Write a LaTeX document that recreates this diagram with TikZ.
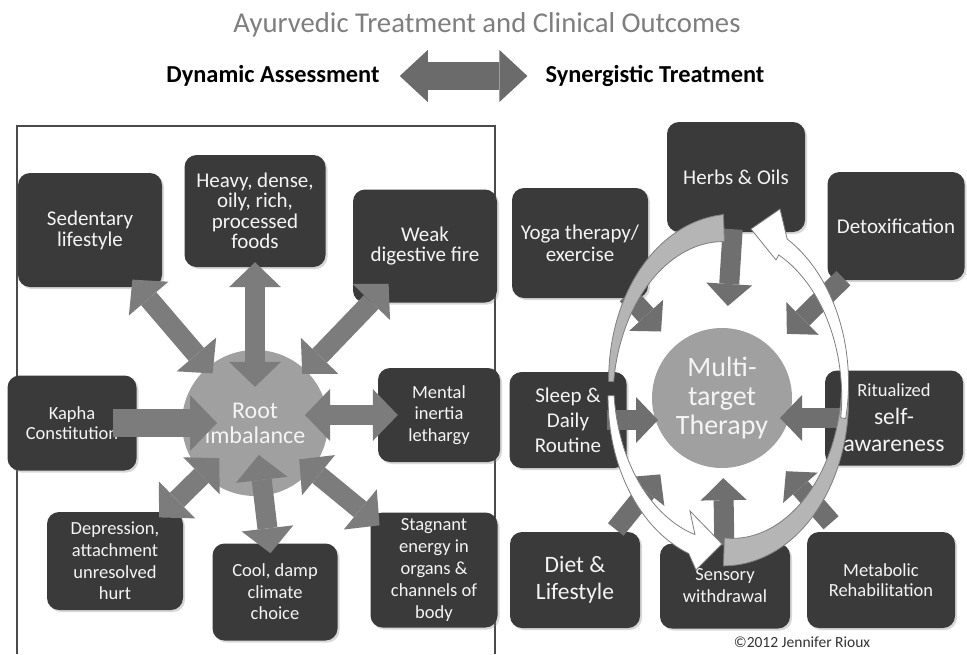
\documentclass[tikz,border=0pt]{standalone}
\usepackage{fontspec}
\setmainfont{Carlito}
\usepackage{tikz}
\usetikzlibrary{arrows.meta, shadows}
\definecolor{boxInk}{HTML}{3A3A3A}
\definecolor{boxText}{HTML}{F4F4F4}
\definecolor{hubFill}{HTML}{A0A0A0}
\definecolor{linkGray}{HTML}{7C7C7C}
\definecolor{feedGray}{HTML}{6F6F6F}
\definecolor{titleGray}{HTML}{7E7E7E}
\definecolor{bandGray}{HTML}{B5B5B5}
\definecolor{bandEdge}{HTML}{7E7E7E}
\definecolor{panelInk}{HTML}{4A4A4A}
% ellipse that carries the two circular arrows
\newcommand{\ringcx}{728}
\newcommand{\ringcy}{390}
\newcommand{\ringa}{117}
\newcommand{\ringb}{162}
\newcommand{\ringedge}[5]{plot[domain=#2:#3, samples=30, smooth]
  ({\ringcx+(\ringa#10.5*(#4+((#5)-(#4))*(\x-(#2))/((#3)-(#2))))*cos(\x)},
   {\ringcy+(\ringb#10.5*(#4+((#5)-(#4))*(\x-(#2))/((#3)-(#2))))*sin(\x)})}
\newcommand{\ringline}[5]{-- plot[domain=#2:#3, samples=30, smooth]
  ({\ringcx+(\ringa#10.5*(#4+((#5)-(#4))*(\x-(#2))/((#3)-(#2))))*cos(\x)},
   {\ringcy+(\ringb#10.5*(#4+((#5)-(#4))*(\x-(#2))/((#3)-(#2))))*sin(\x)})}
\tikzset{
  headline/.style={font=\fontsize{28.7}{31}\selectfont, text=titleGray, inner sep=0pt},
  subhead/.style={font=\fontsize{24.4}{27}\bfseries\selectfont, text=black, inner sep=0pt},
  twoway/.style={draw=black!58, line width=28pt,
    {Triangle[width=52pt,length=28pt,line width=0pt]}-{Triangle[width=52pt,length=28pt,line width=0pt]}},
  panelline/.style={draw=panelInk, line width=1.3pt},
}
\tikzset{
  causebox/.style={fill=boxInk, text=boxText, rounded corners=12pt, inner sep=2pt, align=center,
    drop shadow={shadow xshift=2pt, shadow yshift=-2pt, opacity=0.3}},
  bodyfont/.style={font=\fontsize{21}{#1}\selectfont}, bodyfont/.default=21,
  smallfont/.style={font=\fontsize{18.5}{#1}\selectfont}, smallfont/.default=21.5,
  largefont/.style={font=\fontsize{23.5}{#1}\selectfont}, largefont/.default=27,
  hub/.style={circle, fill=hubFill, text=boxText, inner sep=0pt, align=center},
  linkarrow/.style={draw=linkGray, line width=20pt,
    {Triangle[width=52pt,length=25pt,line width=0pt]}-{Triangle[width=52pt,length=25pt,line width=0pt]}},
  pusharrow/.style={draw=linkGray, line width=28pt, -{Triangle[width=56pt,length=27pt,line width=0pt]}},
  feedarrow/.style={draw=feedGray, line width=20pt, -{Triangle[width=46pt,length=22pt,line width=0pt]}},
  greyband/.style={fill=bandGray, draw=bandEdge, line width=0.8pt},
  whiteband/.style={fill=white, draw=bandEdge, line width=0.8pt},
  credit/.style={font=\fontsize{15.5}{17}\selectfont, text=black!80, inner sep=0pt},
}
\begin{document}
\begin{tikzpicture}[x=1pt, y=-1pt]
  \path[use as bounding box, fill=white] (0,0) rectangle (967,654);
  % heading
  \node[headline] (title) at (487,25) {Ayurvedic Treatment and Clinical Outcomes};
  \node[subhead] (assess) at (273,76) {Dynamic Assessment};
  \node[subhead] (synergy) at (655,76) {Synergistic Treatment};
  \draw[twoway, shorten <=20pt, shorten >=18pt] (assess) -- (synergy);

  % left panel: causes around the root imbalance
  \draw[panelline] (17,654) -- (17,126) -- (495,126) -- (495,654);
  \node[causebox, bodyfont, minimum width=144pt, minimum height=114pt] (sedentary) at (90,230) {Sedentary\\lifestyle};
  \node[causebox, bodyfont=20.5, minimum width=141pt, minimum height=112pt] (heavy) at (255,211) {Heavy, dense,\\oily, rich,\\processed\\foods};
  \node[causebox, bodyfont=19.5, minimum width=144pt, minimum height=113pt] (weak) at (425,246) {Weak\\digestive fire};
  \node[causebox, smallfont=20, minimum width=129pt, minimum height=95pt] (kapha) at (72,423) {Kapha\\Constitution};
  \node[causebox, smallfont, minimum width=122pt, minimum height=94pt] (mental) at (439,415) {Mental\\inertia\\lethargy};
  \node[causebox, smallfont=21.7, minimum width=136pt, minimum height=98pt] (depression) at (115,561) {Depression,\\attachment\\unresolved\\hurt};
  \node[causebox, smallfont, minimum width=125pt, minimum height=97pt] (cool) at (275,592) {Cool, damp\\climate\\choice};
  \node[causebox, smallfont=22, minimum width=127pt, minimum height=115pt] (stagnant) at (434,570) {Stagnant\\energy in\\organs \&\\channels of\\body};
  \node[hub, minimum size=146pt, font=\fontsize{24}{25}\selectfont] (root) at (255,423) {Root\\imbalance};
  \foreach \cause/\near/\far in {sedentary/-10/-8, heavy/-5/-37, weak/-26/-5, depression/-8/-23, cool/-10/-41, stagnant/-12/-16}
    \draw[linkarrow, shorten <=\near pt, shorten >=\far pt] (\cause) -- (root);
  \draw[linkarrow, shorten <=-20pt, shorten >=50pt] (mental) -- (mental -| root);
  \draw[pusharrow, shorten <=-24pt, shorten >=38pt] (kapha) -- (kapha -| root);

  % right panel: treatments feeding the multi-target therapy
  \node[causebox, bodyfont, minimum width=138pt, minimum height=110pt] (herbs) at (736,177) {Herbs \& Oils};
  \node[causebox, bodyfont=22, minimum width=136pt, minimum height=110pt] (yoga) at (580,243) {Yoga therapy/\\exercise};
  \node[causebox, bodyfont, minimum width=137pt, minimum height=108pt] (detox) at (896,226) {Detoxification};
  \node[causebox, bodyfont=25, minimum width=117pt, minimum height=96pt] (sleep) at (568,420) {Sleep \&\\Daily\\Routine};
  \node[causebox, largefont=27.5, minimum width=138pt, minimum height=95pt] (ritual) at (894,418) {{\fontsize{18.5}{20}\selectfont Ritualized}\\self-\\awareness};
  \node[causebox, largefont, minimum width=130pt, minimum height=96pt] (diet) at (575,580) {Diet \&\\Lifestyle};
  \node[causebox, smallfont=22, minimum width=130pt, minimum height=85pt] (sensory) at (725,586) {Sensory\\withdrawal};
  \node[causebox, smallfont=20, minimum width=148pt, minimum height=96pt] (metabolic) at (881,580) {Metabolic\\Rehabilitation};
  \node[hub, minimum size=140pt, font=\fontsize{28}{29}\selectfont] (multi) at (722,398) {Multi-\\target\\Therapy};
  \foreach \cure/\near/\far in {herbs/-3/22, yoga/-5/20, detox/-3/21, diet/3/28, sensory/-2/10, metabolic/12/27}
    \draw[feedarrow, shorten <=\near pt, shorten >=\far pt] (\cure) -- (multi);
  \draw[feedarrow, shorten <=-20pt, shorten >=64pt] (sleep) -- (sleep -| multi);
  \draw[feedarrow, shorten <=-18pt, shorten >=58pt] (ritual) -- (ritual -| multi);

  % circular arrows round the therapy
  \filldraw[greyband] \ringedge{+}{183}{268}{5}{27} \ringline{-}{268}{183}{27}{5} -- cycle;
  \filldraw[greyband] \ringedge{+}{-8}{92}{5}{28} \ringline{-}{92}{-8}{28}{5} -- cycle;
  \filldraw[whiteband] \ringedge{+}{178}{108}{6}{20} -- (696,570) -- (722,544) -- (690,511)
    \ringline{-}{108}{178}{20}{6} -- cycle;
  \filldraw[whiteband] \ringedge{+}{10}{-62}{5}{18} -- (780,209) -- (751,229) -- (776,260)
    \ringline{-}{-62}{10}{18}{5} -- cycle;

  \node[credit] (copy) at (802,642) {\textcopyright 2012 Jennifer Rioux};
\end{tikzpicture}
\end{document}
